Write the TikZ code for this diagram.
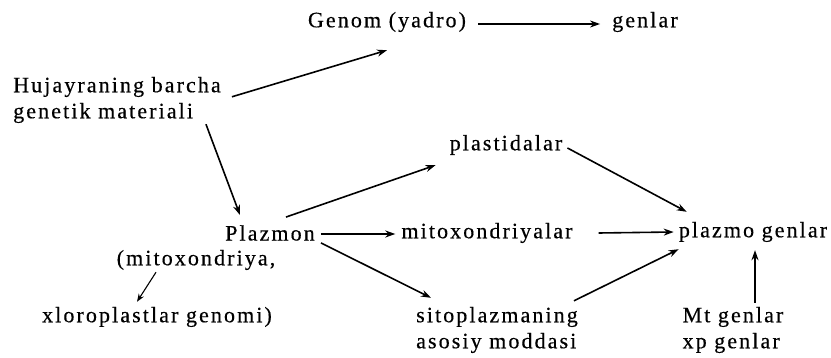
\documentclass[tikz,border=0pt]{standalone}
\usepackage{fontspec}
\setmainfont[LetterSpace=9.5, FakeBold=0.4]{Liberation Serif}
\usetikzlibrary{arrows.meta, positioning}

\begin{document}
\begin{tikzpicture}[
    x=1pt, y=-1pt,
    term/.style={inner sep=0pt, font=\fontsize{22}{26}\selectfont, align=left},
    arr/.style={-{Stealth[length=10pt, width=7pt]}, line width=1.6pt},
    smallarr/.style={-{Stealth[length=8pt, width=6pt]}, line width=1.1pt}
]
\useasboundingbox (0,0) rectangle (831,358);

% Terms
\node[term] (genom)   at (387, 22)  {Genom (yadro)};
\node[term] (genlar)  at (645, 22)  {genlar};
\node[term] (hujayra) at (117, 100) {Hujayraning barcha\\genetik materiali};
\node[term] (plastid) at (506, 145) {plastidalar};
\node[term] (plazmon) at (270, 233) {Plazmon};
\node[term] (mitox)   at (487, 233) {mitoxondriyalar};
\node[term] (plazmo)  at (753, 232) {plazmo genlar};
\node[term] (mitoxq)  at (196, 260) {(mitoxondriya,};
\node[term] (xloro)   at (157, 317) {xloroplastlar genomi)};
\node[term] (sitopl)  at (497, 330) {sitoplazmaning\\asosiy moddasi};
\node[term] (mtxp)    at (733, 330) {Mt genlar\\xp genlar};

% Connectors
\draw[arr, shorten <=12pt, shorten >=12pt] ([yshift=-2pt]genom.east) -- ([yshift=-2pt]genlar.west);
\draw[arr] ([xshift=11pt, yshift=-20pt]hujayra.north east) -- ([yshift=-18pt]genom.south);
\draw[arr] ([xshift=-15pt, yshift=-1pt]hujayra.south east) -- ([xshift=-30pt, yshift=10pt]plazmon.north);
\draw[arr] ([xshift=-29pt, yshift=8pt]plazmon.north east) -- ([xshift=-14pt, yshift=-10pt]plastid.south west);
\draw[arr] ([xshift=5pt, yshift=-3pt]plastid.east) -- ([xshift=8pt, yshift=10pt]plazmo.north west);
\draw[arr] ([xshift=6pt, yshift=-1pt]plazmon.east) -- ([xshift=-6pt, yshift=-1pt]mitox.west);
\draw[arr] ([xshift=26pt]mitox.east) -- ([xshift=-5pt]plazmo.west);
\draw[arr] ([xshift=6pt, yshift=-2pt]plazmon.south east) -- ([xshift=15pt, yshift=9pt]sitopl.north west);
\draw[arr] ([xshift=-4pt, yshift=6pt]sitopl.north east) -- ([yshift=-7pt]plazmo.south west);
\draw[arr] ([xshift=22pt, yshift=4pt]mtxp.north) -- ([xshift=2pt, yshift=-8pt]plazmo.south);
\draw[smallarr] ([xshift=-40pt, yshift=-2pt]mitoxq.south) -- ([xshift=-20pt, yshift=5pt]xloro.north);

\end{tikzpicture}
\end{document}
